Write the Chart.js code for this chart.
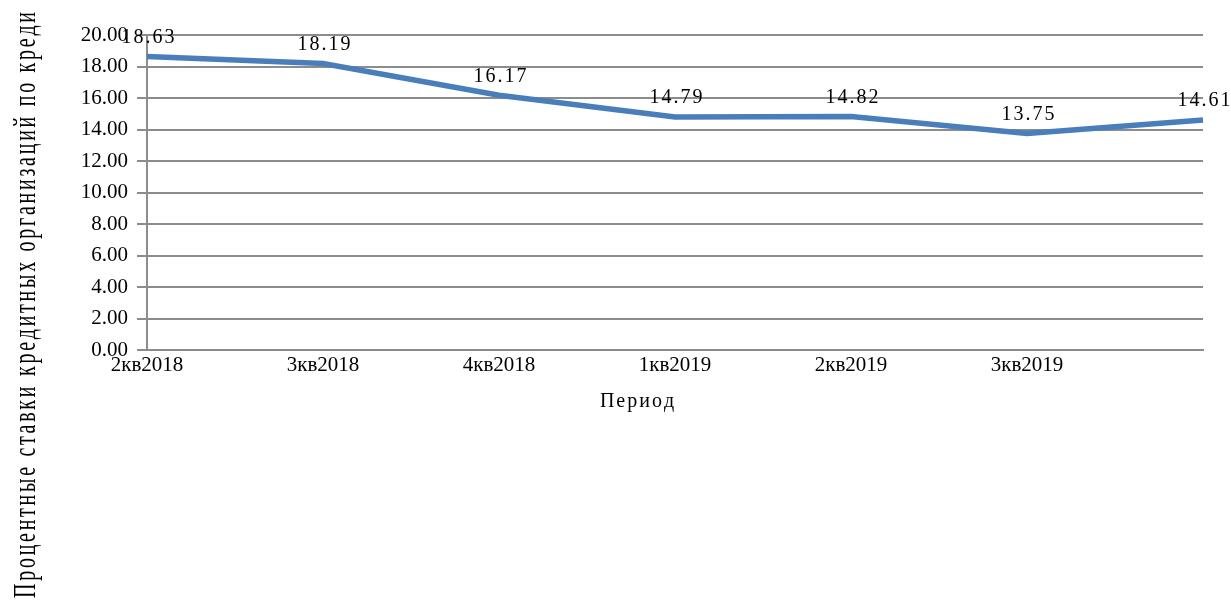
<!DOCTYPE html>
<html>
<head>
<meta charset="utf-8">
<script src="https://cdn.jsdelivr.net/npm/chart.js@4.4.1/dist/chart.umd.min.js"></script>
<style>
  html, body { margin: 0; padding: 0; background: #fff; }
  #wrap { width: 1231px; height: 607px; }
</style>
</head>
<body>
<div id="wrap"><canvas id="rateChart" width="1231" height="607"></canvas></div>
<script>
// quarters (last point has no label in the original)
const periods = ['2кв2018', '3кв2018', '4кв2018', '1кв2019', '2кв2019', '3кв2019', ''];
const rates = [18.63, 18.19, 16.17, 14.79, 14.82, 13.75, 14.61];
const yTitle = 'Процентные ставки кредитных организаций по креди';
const xTitle = 'Период';

const FONT = "'Liberation Serif', serif";

// canvas letterSpacing swaps the serif font out, so space glyphs by hand
function drawSpaced(ctx, text, cx, y, gap) {
    const chars = text.split('');
    const ws = chars.map(c => ctx.measureText(c).width);
    const total = ws.reduce((a, b) => a + b, 0) + gap * (chars.length - 1);
    let x = cx - total / 2;
    ctx.textAlign = 'left';
    chars.forEach((c, i) => {
        ctx.fillText(c, x, y);
        x += ws[i] + gap;
    });
}

// glyph by glyph, spread over a fixed length
function drawSpread(ctx, text, x, y, total) {
    const chars = text.split('');
    const ws = chars.map(c => ctx.measureText(c).width);
    const gap = (total - ws.reduce((a, b) => a + b, 0)) / (chars.length - 1);
    chars.forEach((c, i) => {
        ctx.fillText(c, x, y);
        x += ws[i] + gap;
    });
}

const extras = {
    id: 'extras',
    afterDatasetsDraw(chart) {
        const ctx = chart.ctx;
        const meta = chart.getDatasetMeta(0);
        ctx.save();
        ctx.font = '20px ' + FONT;
        ctx.fillStyle = '#000';
        ctx.textBaseline = 'bottom';
        meta.data.forEach((pt, i) => {
            drawSpaced(ctx, rates[i].toFixed(2), pt.x + 1, pt.y - 9, 2);
        });
        ctx.restore();
    },
    afterDraw(chart) {
        const ctx = chart.ctx;
        ctx.save();
        ctx.fillStyle = '#000';
        ctx.font = '20px ' + FONT;
        ctx.textBaseline = 'top';
        drawSpaced(ctx, xTitle, 637, 392, 2);

        // rotated y title, stretched like the original
        ctx.translate(35, 598);
        ctx.rotate(-Math.PI / 2);
        ctx.scale(1, 1.6);
        ctx.textAlign = 'left';
        ctx.textBaseline = 'alphabetic';
        drawSpread(ctx, yTitle, 0, 0, 586);
        ctx.restore();
    }
};

new Chart(document.getElementById('rateChart'), {
    type: 'line',
    data: {
        labels: periods,
        datasets: [{
            data: rates,
            borderColor: '#4a7ebb',
            borderWidth: 5.5,
            pointRadius: 0,
            tension: 0,
            fill: false
        }]
    },
    options: {
        responsive: false,
        animation: false,
        layout: { padding: { left: 40, right: 28, top: 35, bottom: 0 } },
        plugins: {
            legend: { display: false },
            tooltip: { enabled: false }
        },
        scales: {
            x: {
                offset: false,
                grid: { display: false, drawTicks: false },
                border: { display: true, color: '#8c8c8c', width: 2 },
                ticks: {
                    color: '#000',
                    font: { family: FONT, size: 21 },
                    padding: 3,
                    maxRotation: 0,
                    autoSkip: false
                },
                afterFit(s) { s.height = 257; }
            },
            y: {
                min: 0,
                max: 20,
                grid: { color: '#8c8c8c', lineWidth: 2, tickLength: 10 },
                border: { display: true, color: '#8c8c8c', width: 2 },
                ticks: {
                    stepSize: 2,
                    color: '#000',
                    font: { family: FONT, size: 21 },
                    padding: 9,
                    callback: v => v.toFixed(2)
                },
                afterFit(s) { s.width = 107; }
            }
        }
    },
    plugins: [extras]
});
</script>
</body>
</html>
